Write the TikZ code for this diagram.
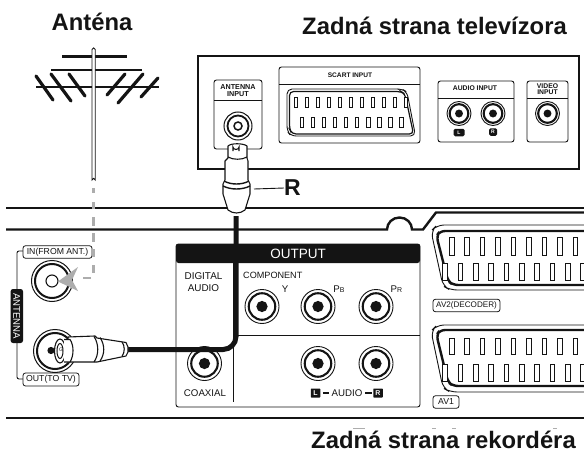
\documentclass[tikz,border=0pt]{standalone}
\usepackage{fontspec}
\usetikzlibrary{calc}
\setmainfont{Liberation Sans}
\definecolor{gdash}{gray}{0.68}
\definecolor{ink}{gray}{0.08}
\tikzset{
 heading/.style={font=\fontsize{23.8}{26}\selectfont\bfseries,text=ink,inner sep=0pt},
 lab/.style={font=\fontsize{#1}{#1}\selectfont,text=ink,inner sep=0pt,align=center},
 blab/.style={font=\fontsize{#1}{#1}\selectfont\bfseries,text=ink,inner sep=0pt,align=center},
 tag/.style={draw=ink,line width=.8pt,rounded corners=2.5pt,fill=white,inner sep=0pt,font=\fontsize{8.7}{9}\selectfont,text=ink},
 badge/.style={fill=ink,rounded corners=1.5pt,text=white,inner sep=0pt,minimum width=#1,minimum height=7.5pt,font=\fontsize{5}{5}\selectfont\bfseries},
 pbox/.style={draw=ink,line width=.9pt,rounded corners=2.5pt},
 pin/.style={draw=ink,line width=.9pt,fill=white},
 plug/.style={draw=ink,line width=1.1pt,fill=white,line join=round},
 gd/.style={draw=gdash,line width=2.6pt},
}
% RCA jack: thin ring, thick ring, dot
\newcommand{\rcajack}[3]{% x y scale
 \begin{scope}[shift={(#1,#2)}]
 \fill[white] (0,0) circle (#3*1.05);
 \draw[ink,line width=.9pt] (0,0) circle (#3*1.0);
 \draw[ink,line width=2.1pt] (0,0) circle (#3*.78);
 \fill[ink] (0,0) circle (#3*.33);
 \end{scope}}
\newcommand{\pinrow}[6]{% x0 dx n ytop ybot width
 \foreach \k in {1,...,#3}{
  \pgfmathsetmacro{\xa}{#1+(\k-1)*#2}
  \draw[pin] (\xa-#6/2,#4) rectangle (\xa+#6/2,#5);}}
\begin{document}
\begin{tikzpicture}[x=1pt,y=-1pt]
\useasboundingbox (0,0) rectangle (584,452);
\fill[white] (0,0) rectangle (584,452);

% headings
\node[heading] (hant) at (92,22) {Anténa};
\node[heading] (htv) at (434.5,25.5) {Zadná strana televízora};
\node[heading] (hrec) at (443.5,440) {Zadná strana rekordéra};
\foreach \a/\b in {353/365,432/436,452/456,553/557}
 \draw[gdash,line width=.8pt] (\a,428) -- (\b,428);

% antenna
\draw[ink,line width=3pt] (62,56.5) -- (127,56.5);
\draw[ink,line width=2.2pt] (51,70) -- (142,70);
\draw[ink,line width=2.2pt] (36,87) -- (159,87);
\foreach \a/\b/\c/\d in {36/76/53/100, 51/74/71/101, 69/74/85/96, 107/95/125/74, 118/103/143/74, 141/97/158/78}
 \draw[ink,line width=3.2pt,line cap=round] (\a,\b) -- (\c,\d);
\draw[ink,line width=.9pt,fill=white] (92,49.5) arc (180:360:1.6) -- (95.2,180) arc (0:-180:1.6) -- cycle;

% rear panel lines
\draw[ink,line width=2.4pt] (6,208) -- (584,208);
\draw[ink,line width=2.4pt] (6,229.5) -- (387,229.5) arc (180:360:12.5 and 12) -- (423,229.5) -- (436,212.5) -- (584,212.5);
\draw[ink,line width=2.8pt] (6,418) -- (584,418);

% TV panel
\draw[ink,line width=2pt,fill=white] (198,56) rectangle (579,169);
\draw[pbox] (214,80) rectangle (262,149);
\draw[ink,line width=.9pt] (214,100) -- (262,100);
\node[blab=7.2] (tant) at (238,90.5) {ANTENNA\\[.5pt]INPUT};
\draw[ink,line width=1pt] (238,126) circle (14);
\draw[ink,line width=1.8pt] (238,126) circle (10.5);
\draw[ink,line width=1.5pt] (238,126) circle (4);

\draw[pbox] (279,67) rectangle (420,143);
\draw[ink,line width=.9pt] (279,84.5) -- (420,84.5);
\node[blab=6.6] (tsc) at (350,75) {SCART INPUT};
\draw[ink,line width=.9pt,rounded corners=5pt] (287,89) -- (402,89) -- (407,92) -- (415.5,136) -- (291,136) -- (287,131) -- cycle;
\draw[ink,line width=1.2pt,rounded corners=4pt] (289.5,91.5) -- (401,91.5) -- (405,94) -- (413.5,134) -- (292,134) -- (289.5,129) -- cycle;
\pinrow{295.7}{11.03}{11}{97}{107}{3.4}
\pinrow{301.7}{11.1}{10}{117}{127}{3.4}

\draw[pbox] (438,81) rectangle (514,142);
\draw[ink,line width=.9pt] (438,98) -- (514,98);
\node[blab=6.8] (taud) at (475,88.5) {AUDIO INPUT};
\rcajack{459}{113.5}{12}
\rcajack{493}{113.5}{12}
\node[badge=11pt] (bl) at (459,132.5) {L};
\node[badge=8pt] (br) at (493,132) {R};

\draw[pbox] (527,81) rectangle (568,142);
\draw[ink,line width=.9pt] (527,98) -- (568,98);
\node[blab=6.8] (tvid) at (547.5,89.5) {VIDEO\\[-.5pt]INPUT};
\rcajack{547.5}{113.5}{12}

% OUTPUT panel
\draw[pbox,fill=white] (176,244) rectangle (420,407);
\fill[ink,rounded corners=2.5pt] (176,263) -- (176,244) -- (420,244) -- (420,263) -- cycle;
\node[lab=13.5,text=white] (tout) at (298,253.5) {OUTPUT};
\draw[ink,line width=.9pt] (233,263) -- (233,402);
\draw[ink,line width=.9pt] (233,335) -- (420,335);
\node[lab=9.9] (tdig) at (203.5,282) {DIGITAL\\[2.6pt]AUDIO};
\node[lab=9.1,anchor=west] (tcomp) at (243,275.5) {COMPONENT};
\node[lab=9.7] (ty) at (285,289) {Y};
\node[lab=9.7] (tpb) at (339,289) {P\fontsize{7}{7}\selectfont B};
\node[lab=9.7] (tpr) at (396.5,289) {P\fontsize{7}{7}\selectfont R};
\node[lab=9.7] (tcoa) at (205,393) {COAXIAL};
\rcajack{262}{306.5}{17}
\rcajack{318}{306.5}{17}
\rcajack{376}{306.5}{17}
\rcajack{318}{363.5}{17}
\rcajack{376}{363.5}{17}
\rcajack{204.5}{363.5}{17}
\node[lab=9.7] (taudio) at (347,393) {AUDIO};
\node[badge=9.5pt,minimum height=9pt,rounded corners=.6pt,font=\fontsize{7}{7}\selectfont\bfseries] (bL) at (315.5,393) {L};
\node[badge=9.5pt,minimum height=9pt,rounded corners=.6pt,font=\fontsize{7}{7}\selectfont\bfseries] (bR) at (378,393) {R};
\draw[ink,line width=1.1pt] ($(bL.east)+(2.5,0)$) -- (329,393);
\draw[ink,line width=1.1pt] (365,393) -- ($(bR.west)+(-1.5,0)$);

% left tags
\draw[ink,line width=.9pt,rounded corners=2pt] (23,251) -- (17,251) -- (17,379) -- (23,379);
\node[tag,minimum width=69pt,minimum height=12.5pt] (tin) at (57.5,252) {IN(FROM ANT.)};
\node[tag,minimum width=56pt,minimum height=13pt] (tot) at (51,379.5) {OUT(TO TV)};
\node[fill=ink,rounded corners=2.5pt,rotate=-90,text=white,inner sep=0pt,minimum width=54pt,minimum height=12.5pt,font=\fontsize{9.6}{9.6}\selectfont] (tan) at (16.8,316) {ANTENNA};

% AV scarts
\node[tag,minimum width=67pt,minimum height=12.5pt,font=\fontsize{8.1}{9}\selectfont] (tav2) at (466.5,305.5) {AV2(DECODER)};
\node[tag,minimum width=26pt,minimum height=12.5pt] (tav1) at (446,402) {AV1};
\foreach \t/\b/\i/\j/\tp/\tb/\bp/\bb in {225/290/6/5/237/255/263/280, 325/392/5/6/338/354/364/381}{
 \draw[ink,line width=.9pt,rounded corners=7pt] (584,\t) -- (437,\t) -- (431,\t+6) -- (443,\b-4) -- (450,\b) -- (584,\b);
 \draw[ink,line width=2.4pt,rounded corners=5pt] (584,\t+\i) -- (440,\t+\i) -- (436.5,\t+\i+5) -- (448,\b-\j-4) -- (453,\b-\j) -- (584,\b-\j);
 \pinrow{451.7}{15.45}{9}{\tp}{\tb}{4.6}
 \pinrow{445}{15.35}{10}{\bp}{\bb}{4.6}
}

% IN jack
\draw[ink,line width=1pt] (52,281) circle (20.5);
\draw[ink,line width=2pt] (52,281) circle (17);
\draw[ink,line width=1.1pt] (52,281) circle (6);

% OUT jack
\draw[ink,line width=1pt] (55,351) circle (21.5);
\draw[ink,line width=2pt] (55,351) circle (18);
\fill[ink] (51,350.5) circle (3.6);

% grey dashed antenna lead
\foreach \a/\b in {188/193,202/209,217/226,233/242,249/257,265/273}
 \draw[gd] (93.5,\a) -- (93.5,\b);
\draw[gd] (83,278) -- (91,278);
\fill[gdash] (58,281.5) -- (78,267) -- (72,280) -- (78,291) -- cycle;

% cable
\coordinate (cb1) at (236,216);
\coordinate (cb2) at (125,349.5);
\draw[ink,line width=5pt,rounded corners=13pt] (cb1) -- (236,349.5) -- (cb2);

% left plug
\draw[plug] (68,337) -- (95,336) -- (97,338) -- (126,342.5) -- (128,347) -- (128,352) -- (126,356) -- (97,362) -- (68,362) -- cycle;
\draw[ink,line width=1.1pt] (94,336.5) .. controls (99,344) and (99,355) .. (94,362);
\draw[ink,line width=1.1pt] (100,337.5) .. controls (105,345) and (105,354) .. (100,361);
\draw[ink,line width=1.1pt] (122,342) .. controls (125,346) and (125,352) .. (122,356.5);
\draw[plug] (60,351) ellipse (5.5 and 12);
\draw[plug] (64,339.5) -- (70,339.5) .. controls (74,345) and (74,356) .. (70,362) -- (64,362);
\draw[ink,line width=1pt] (60,351) ellipse (3 and 7.5);
\node[font=\fontsize{5}{5}\selectfont,inner sep=0pt,text=ink] (gpin) at (61,350) {G};

% top plug
\draw[plug] (228,146) .. controls (231,143) and (243,143) .. (247,146) -- (247,158) -- (248,161) -- (248,180) -- (250,184) -- (250,194) -- (245,210) .. controls (240,214) and (233,214) .. (228,210) -- (223,194) -- (223,184) -- (225,180) -- (225,161) -- (228,158) -- cycle;
\draw[ink,line width=1.1pt] (228,157) .. controls (233,160) and (242,160) .. (247,157);
\draw[ink,line width=1.4pt] (224,181) .. controls (231,185) and (242,185) .. (249,181);
\draw[ink,line width=1.4pt] (223,186) .. controls (231,190) and (242,190) .. (250,186);
\draw[ink,line width=1.1pt] (233,151) -- (233,147) arc (180:0:3 and 2.5) -- (239,151);
\node[blab=23] (rlab) at (292.5,188) {R};
\coordinate (rp) at (254,189);
\draw[ink,line width=.9pt] (rp) -- (rlab.west);
\end{tikzpicture}
\end{document}
